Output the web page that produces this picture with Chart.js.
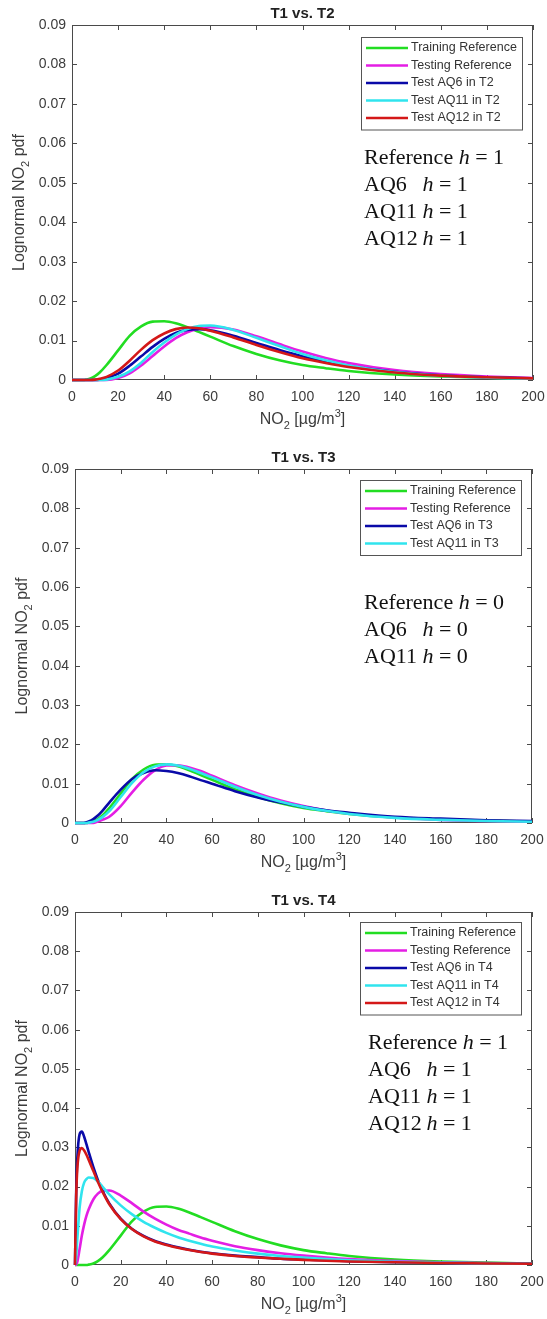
<!DOCTYPE html>
<html lang="en">
<head>
<meta charset="UTF-8" />
<title>Lognormal NO2 pdf | T1 vs. T2, T3, T4</title>
<script src="https://cdn.jsdelivr.net/npm/chart.js"></script>
<style>
  body { margin: 0; background: #fff; }
  .panel { position: absolute; left: 0; width: 547px; }
</style>
</head>
<body>
<div class="panel" style="top:0;height:440px"><canvas id="c1" width="547" height="440"></canvas></div>
<div class="panel" style="top:440px;height:440px"><canvas id="c2" width="547" height="440"></canvas></div>
<div class="panel" style="top:880px;height:439px"><canvas id="c3" width="547" height="439"></canvas></div>

<script>
// NO2 concentration grid (µg/m3) shared by every curve
const no2 = [0, 0.5, 1, 2, 3, 4, 5, 6, 8, 10, 12, 15, 20, 25, 30, 35, 40, 45, 50, 55, 60, 70, 80, 90, 100, 110, 120, 140, 160, 180, 200];

// training reference (T1) - same in all three panels
const trainingRef = [0, 0, 0, 0, 0, 0, 0, 0.0001, 0.0004, 0.0010, 0.0019, 0.0038, 0.0075, 0.0112, 0.0136, 0.0148, 0.0149, 0.0144, 0.0134, 0.0122, 0.0110, 0.0086, 0.0066, 0.0050, 0.0038, 0.0030, 0.0023, 0.0014, 0.0009, 0.0006, 0.0004];

// T1 vs. T2
const testingT2 = [0, 0, 0, 0, 0, 0, 0, 0, 0, 0, 0, 0, 0.0005, 0.0017, 0.0037, 0.0061, 0.0085, 0.0106, 0.0121, 0.0130, 0.0134, 0.0128, 0.0111, 0.0091, 0.0072, 0.0056, 0.0043, 0.0025, 0.0015, 0.0009, 0.0005];
const aq6T2 = [0, 0, 0, 0, 0, 0, 0, 0, 0, 0, 0.0001, 0.0005, 0.0016, 0.0036, 0.0060, 0.0084, 0.0104, 0.0119, 0.0127, 0.0129, 0.0126, 0.0112, 0.0094, 0.0076, 0.0060, 0.0047, 0.0036, 0.0021, 0.0012, 0.0007, 0.0004];
const aq11T2 = [0, 0, 0, 0, 0, 0, 0, 0, 0, 0, 0, 0.0001, 0.0008, 0.0022, 0.0044, 0.0071, 0.0095, 0.0115, 0.0129, 0.0137, 0.0138, 0.0127, 0.0107, 0.0086, 0.0066, 0.0050, 0.0037, 0.0020, 0.0011, 0.0006, 0.0003];
const aq12T2 = [0, 0, 0, 0, 0, 0, 0, 0, 0, 0.0001, 0.0003, 0.0008, 0.0024, 0.0049, 0.0077, 0.0101, 0.0118, 0.0129, 0.0133, 0.0131, 0.0125, 0.0108, 0.0089, 0.0071, 0.0055, 0.0043, 0.0033, 0.0019, 0.0011, 0.0007, 0.0004];

// T1 vs. T3
const testingT3 = [0, 0, 0, 0, 0, 0, 0, 0, 0, 0.0004, 0.0008, 0.0016, 0.0043, 0.0078, 0.0110, 0.0134, 0.0146, 0.0147, 0.0141, 0.0132, 0.0120, 0.0096, 0.0075, 0.0057, 0.0043, 0.0032, 0.0024, 0.0014, 0.0008, 0.0005, 0.0003];
const aq6T3 = [0, 0, 0, 0, 0, 0, 0.0002, 0.0004, 0.0010, 0.0019, 0.0031, 0.0052, 0.0085, 0.0112, 0.0127, 0.0134, 0.0132, 0.0127, 0.0119, 0.0109, 0.0100, 0.0081, 0.0065, 0.0052, 0.0041, 0.0032, 0.0026, 0.0016, 0.0011, 0.0007, 0.0005];
const aq11T3 = [0, 0, 0, 0, 0, 0, 0, 0.0001, 0.0003, 0.0008, 0.0015, 0.0030, 0.0066, 0.0102, 0.0129, 0.0144, 0.0149, 0.0146, 0.0138, 0.0127, 0.0116, 0.0092, 0.0071, 0.0054, 0.0041, 0.0031, 0.0023, 0.0013, 0.0008, 0.0005, 0.0003];

// T1 vs. T4
const testingT4 = [0, 0.0001, 0.0008, 0.0040, 0.0075, 0.0103, 0.0125, 0.0142, 0.0167, 0.0182, 0.0189, 0.0190, 0.0177, 0.0157, 0.0136, 0.0118, 0.0103, 0.0090, 0.0080, 0.0070, 0.0062, 0.0048, 0.0038, 0.0030, 0.0024, 0.0019, 0.0015, 0.0010, 0.0007, 0.0005, 0.0003];
const aq6T4 = [0, 0.0180, 0.0270, 0.0333, 0.0340, 0.0327, 0.0308, 0.0288, 0.0250, 0.0217, 0.0190, 0.0157, 0.0118, 0.0092, 0.0074, 0.0061, 0.0052, 0.0045, 0.0039, 0.0034, 0.0030, 0.0024, 0.0020, 0.0016, 0.0014, 0.0012, 0.0010, 0.0007, 0.0005, 0.0004, 0.0003];
const aq11T4 = [0, 0.0020, 0.0065, 0.0145, 0.0188, 0.0210, 0.0219, 0.0223, 0.0222, 0.0213, 0.0200, 0.0180, 0.0152, 0.0129, 0.0110, 0.0095, 0.0082, 0.0071, 0.0062, 0.0054, 0.0047, 0.0037, 0.0029, 0.0023, 0.0019, 0.0015, 0.0012, 0.0008, 0.0006, 0.0004, 0.0003];
const aq12T4 = [0, 0.0170, 0.0245, 0.0291, 0.0298, 0.0292, 0.0281, 0.0268, 0.0240, 0.0212, 0.0187, 0.0155, 0.0117, 0.0091, 0.0073, 0.0060, 0.0051, 0.0044, 0.0038, 0.0033, 0.0029, 0.0023, 0.0019, 0.0016, 0.0013, 0.0011, 0.0009, 0.0007, 0.0005, 0.0004, 0.0003];

const xTicks = [0, 20, 40, 60, 80, 100, 120, 140, 160, 180, 200];
const yTicks = [0, 0.01, 0.02, 0.03, 0.04, 0.05, 0.06, 0.07, 0.08, 0.09];

const titles = ['T1 vs. T2', 'T1 vs. T3', 'T1 vs. T4'];
const labelsT2 = ['Training Reference', 'Testing Reference', 'Test AQ6 in T2', 'Test AQ11 in T2', 'Test AQ12 in T2'];
const labelsT3 = ['Training Reference', 'Testing Reference', 'Test AQ6 in T3', 'Test AQ11 in T3'];
const labelsT4 = ['Training Reference', 'Testing Reference', 'Test AQ6 in T4', 'Test AQ11 in T4', 'Test AQ12 in T4'];
const notesT2 = [['Reference', '1'], ['AQ6', '1'], ['AQ11', '1'], ['AQ12', '1']];
const notesT3 = [['Reference', '0'], ['AQ6', '0'], ['AQ11', '0']];
const notesT4 = [['Reference', '1'], ['AQ6', '1'], ['AQ11', '1'], ['AQ12', '1']];

const lineColors = ['#22dd22', '#e41ee4', '#0a0aa8', '#30e4ee', '#d41818'];

Chart.defaults.font.family = '"Liberation Sans", Arial, sans-serif';
Chart.defaults.color = '#3c3c3c';

const SANS = '"Liberation Sans", Arial, sans-serif';
const SERIF = '"Liberation Serif", "Times New Roman", serif';

// MATLAB-like box, inward ticks, legend box, annotation and axis titles
const matlabPlugin = {
    id: 'matlab',
    beforeDatasetsDraw(chart) {
        const { ctx, chartArea: a, scales: { x, y } } = chart;
        ctx.save();
        ctx.strokeStyle = '#4a4a4a';
        ctx.lineWidth = 1;
        ctx.strokeRect(a.left + 0.5, a.top + 0.5, a.width - 1, a.height - 1);
        ctx.beginPath();
        xTicks.forEach(v => {
            const px = Math.round(x.getPixelForValue(v)) + 0.5;
            ctx.moveTo(px, a.bottom); ctx.lineTo(px, a.bottom - 5);
            ctx.moveTo(px, a.top); ctx.lineTo(px, a.top + 5);
        });
        yTicks.forEach(v => {
            const py = Math.round(y.getPixelForValue(v)) + 0.5;
            ctx.moveTo(a.left, py); ctx.lineTo(a.left + 5, py);
            ctx.moveTo(a.right, py); ctx.lineTo(a.right - 5, py);
        });
        ctx.stroke();
        ctx.restore();
    },
    afterDatasetsDraw(chart, args, opts) {
        const { ctx, chartArea: a } = chart;
        ctx.save();

        // legend
        const sets = chart.data.datasets;
        const rowH = 17.5;
        const boxW = 161, boxH = sets.length * rowH + 5;
        const bx = a.right - 11 - boxW, by = a.top + opts.legendTop;
        ctx.fillStyle = '#fff';
        ctx.fillRect(bx, by, boxW, boxH);
        ctx.strokeStyle = '#555';
        ctx.lineWidth = 1;
        ctx.strokeRect(bx + 0.5, by + 0.5, boxW, boxH);
        ctx.font = '12.5px ' + SANS;
        ctx.textBaseline = 'middle';
        ctx.textAlign = 'left';
        sets.forEach((ds, i) => {
            const cy = by + 11 + i * rowH;
            ctx.strokeStyle = ds.borderColor;
            ctx.lineWidth = 2.5;
            ctx.beginPath();
            ctx.moveTo(bx + 5, cy); ctx.lineTo(bx + 47, cy);
            ctx.stroke();
            ctx.fillStyle = '#333';
            ctx.fillText(ds.label, bx + 50, cy);
        });

        // h annotation
        ctx.fillStyle = '#111';
        ctx.textBaseline = 'middle';
        const tx = opts.noteX;
        const f = '22px ' + SERIF;
        ctx.font = f;
        const aqH = tx + ctx.measureText('AQ11 ').width;
        opts.notes.forEach((n, i) => {
            const cy = a.top + opts.noteTop + i * 27;
            ctx.font = f;
            ctx.fillText(n[0], tx, cy);
            const hx = n[0] === 'Reference' ? tx + ctx.measureText('Reference ').width : aqH;
            ctx.font = 'italic ' + f;
            ctx.fillText('h', hx, cy);
            const hw = ctx.measureText('h').width;
            ctx.font = f;
            ctx.fillText(' = ' + n[1], hx + hw, cy);
        });
        ctx.restore();
    },
    afterDraw(chart, args, opts) {
        const { ctx, chartArea: a } = chart;
        const cx = (a.left + a.right) / 2;
        ctx.save();
        ctx.fillStyle = '#222';
        ctx.textBaseline = 'middle';
        ctx.textAlign = 'center';
        ctx.font = 'bold 15px ' + SANS;
        ctx.fillText(opts.title, cx, a.top - 11);

        // x axis title: NO2 [µg/m3]
        ctx.fillStyle = '#3c3c3c';
        ctx.textAlign = 'left';
        const big = '16px ' + SANS, small = '11px ' + SANS;
        const parts = [['NO', big, 0], ['2', small, 6], [' [µg/m', big, 0], ['3', small, -6], [']', big, 0]];
        let w = 0;
        parts.forEach(p => { ctx.font = p[1]; w += ctx.measureText(p[0]).width; });
        let px = cx - w / 2;
        const ty = a.bottom + 40;
        parts.forEach(p => {
            ctx.font = p[1];
            ctx.fillText(p[0], px, ty + p[2]);
            px += ctx.measureText(p[0]).width;
        });

        // y axis title: Lognormal NO2 pdf
        const yparts = [['Lognormal NO', big, 0], ['2', small, 6], [' pdf', big, 0]];
        w = 0;
        yparts.forEach(p => { ctx.font = p[1]; w += ctx.measureText(p[0]).width; });
        ctx.translate(a.left - 52, (a.top + a.bottom) / 2);
        ctx.rotate(-Math.PI / 2);
        px = -w / 2;
        yparts.forEach(p => {
            ctx.font = p[1];
            ctx.fillText(p[0], px, p[2]);
            px += ctx.measureText(p[0]).width;
        });
        ctx.restore();
    }
};

function buildChart(id, box, labels, series, opts) {
    const datasets = series.map((vals, i) => ({
        label: labels[i],
        data: no2.map((xv, k) => ({ x: xv, y: vals[k] })),
        borderColor: lineColors[i],
        borderWidth: 2.6,
        pointRadius: 0,
        fill: false,
        cubicInterpolationMode: 'monotone',
        clip: false,
        order: series.length - i
    }));
    const canvas = document.getElementById(id);
    return new Chart(canvas.getContext('2d'), {
        type: 'line',
        data: { datasets },
        plugins: [matlabPlugin],
        options: {
            responsive: false,
            animation: false,
            events: [],
            layout: { padding: { top: box.top, right: canvas.width - box.right, left: 0, bottom: 0 } },
            plugins: {
                legend: { display: false },
                tooltip: { enabled: false },
                matlab: opts
            },
            scales: {
                x: {
                    type: 'linear', min: 0, max: 200,
                    afterBuildTicks: s => { s.ticks = xTicks.map(v => ({ value: v })); },
                    afterFit: s => {
                        s.height = canvas.height - box.bottom;
                        s.paddingLeft = 0; s.paddingRight = 0;
                    },
                    grid: { display: false, drawTicks: false },
                    border: { display: false },
                    ticks: { font: { size: 14 }, color: '#3c3c3c', padding: 9, maxRotation: 0, autoSkip: false }
                },
                y: {
                    type: 'linear', min: 0, max: 0.09,
                    afterBuildTicks: s => { s.ticks = yTicks.map(v => ({ value: v })); },
                    afterFit: s => {
                        s.width = box.left;
                        s.paddingTop = 0; s.paddingBottom = 0;
                    },
                    grid: { display: false, drawTicks: false },
                    border: { display: false },
                    ticks: {
                        font: { size: 14 }, color: '#3c3c3c', padding: 6, autoSkip: false,
                        callback: v => v === 0 ? '0' : v.toFixed(2)
                    }
                }
            }
        }
    });
}

buildChart('c1', { left: 72, right: 533, top: 25, bottom: 380 }, labelsT2,
    [trainingRef, testingT2, aq6T2, aq11T2, aq12T2],
    { title: titles[0], legendTop: 12, notes: notesT2, noteX: 364, noteTop: 133 });

buildChart('c2', { left: 75, right: 532, top: 29, bottom: 383 }, labelsT3,
    [trainingRef, testingT3, aq6T3, aq11T3],
    { title: titles[1], legendTop: 11, notes: notesT3, noteX: 364, noteTop: 134 });

buildChart('c3', { left: 75, right: 532, top: 32, bottom: 385 }, labelsT4,
    [trainingRef, testingT4, aq6T4, aq11T4, aq12T4],
    { title: titles[2], legendTop: 10, notes: notesT4, noteX: 368, noteTop: 131 });
</script>
</body>
</html>
